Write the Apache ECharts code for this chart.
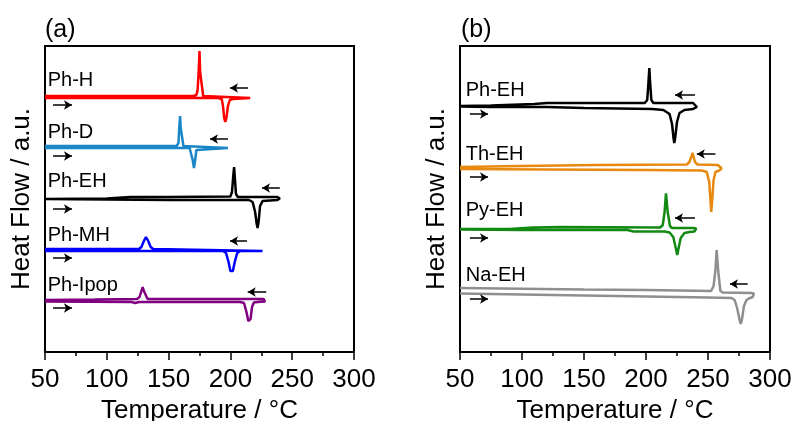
<!DOCTYPE html>
<html>
<head>
<meta charset="utf-8">
<script src="https://cdn.jsdelivr.net/npm/echarts/dist/echarts.min.js"></script>
<style>
  html, body { margin: 0; padding: 0; background: #fff; }
  #chart { width: 792px; height: 421px; }
</style>
</head>
<body>
<div id="chart"></div>
<script>
// DSC traces: heating run (left to right, melting endotherm pointing down)
// followed by the cooling run (right to left, crystallisation exotherm pointing up).
// Heat flow in arbitrary units, curves stacked with vertical offsets.

const tempTicks = [50, 100, 150, 200, 250, 300];

// ---- panel (a) ----
const phH_heat = [[50,254],[190,254],[193,253],[194,246],[195,234],[195.8,230],[196.8,234],[198,246],[199.5,252],[202,253],[216,254],[217.5,255]];
const phH_cool = [[217.5,255.5],[216,256],[178,256],[176.5,258],[175.5,280],[175,301],[174.5,285],[173.5,262],[172.5,257],[170,256],[50,256]];

const phD_heat = [[50,204],[167,204],[168.5,202],[169.5,192],[170.5,184],[171.5,192],[172.5,202],[174,204],[198,204],[199,205]];
const phD_cool = [[199,206],[162,206],[160.5,208],[159.8,224],[159.3,236],[158.6,224],[158,209],[156.5,206],[95.5,206],[94.5,208],[93.5,206],[50,206]];

const phEHa_heat = [[50,153],[150,152],[215,152],[218,150],[220,140],[221.3,128],[222,124],[222.8,130],[224,146],[226,151],[238,152],[240,153.5]];
const phEHa_cool = [[240,154.5],[238,155],[206,155],[204.5,158],[203.5,176],[203,185],[202.3,176],[201.3,160],[200,155.5],[150,155],[119,155],[100,153.5],[50,153]];

const phMH_heat = [[50,101],[194,101],[196.5,99],[198.5,90],[200,81],[201,79],[202,81],[203.5,90],[205.5,99],[208,101],[226,101],[227,101.5]];
const phMH_cool = [[227,102.5],[225,103],[137.5,103],[135.5,105],[133.5,111],[131.7,115],[130,111],[128,105],[126,103],[50,103]];

const phIpop_heat = [[50,50.5],[120,50],[123,49],[126,50],[208,50],[211,49],[213,40],[214.5,31],[215.3,29],[216.3,33],[217.5,45],[219,49.5],[222,50],[228,50.5],[229.5,51.5]];
const phIpop_cool = [[229.5,52.5],[227,53],[133,53],[131.5,55],[130,61],[129,65],[128,61],[126.5,55],[124.5,53],[90,52.5],[50,52]];

// ---- panel (b) ----
const phEHb_heat = [[50,245.5],[75,245],[120,245],[150,244],[205,243],[214,242],[219,238],[221,228],[222.2,214],[222.8,209],[223.5,214],[225,230],[227,239],[231,242],[238,243],[241,245]];
const phEHb_cool = [[241,247],[238,249],[206,249],[204.3,252],[203.3,270],[202.7,284],[202,270],[201,252],[199,249],[120,249],[110,248],[75,246.5],[50,246]];

const thEH_heat = [[50,183],[120,182.5],[200,182],[245,181.5],[249,180],[251,170],[252.2,148],[252.6,140],[253.3,150],[254.5,172],[256,180],[259,181.5],[261,183.5]];
const thEH_cool = [[261,185],[258,187],[241.5,187.5],[239.5,190],[238.2,196],[237.6,199],[236.8,196],[235,190],[233,187.5],[160,187],[100,186],[50,185]];

const pyEH_heat = [[50,122.5],[100,122],[185,122],[190,120.5],[215,120.5],[219,119.5],[222,115],[224,104],[225.2,97],[226.3,104],[228,114],[231,119],[235,120],[239,120.5],[240.5,122]];
const pyEH_cool = [[240.5,123.5],[238,124],[221,124],[219.3,126],[217.5,140],[216.1,158.7],[215,140],[213.5,127],[211.5,124.5],[130,125],[109,124.5],[90,123],[50,123]];

const naEH_heat = [[50,58.5],[100,57.5],[150,56.5],[200,55.5],[250,54.5],[269,54],[271.5,52],[273.5,44],[275.5,32],[276.4,28],[277.3,32],[279,46],[281,52],[283,53.5],[286,55],[287,57]];
const naEH_cool = [[287,58.5],[285,59],[262,59.5],[260,61],[258.3,80],[257,102],[256,82],[254.5,66],[252.5,61],[200,62],[150,62.5],[100,63.3],[50,64]];

// sample names, colours and which panel they sit in
const samplesA = ['Ph-H', 'Ph-D', 'Ph-EH', 'Ph-MH', 'Ph-Ipop'];
const samplesB = ['Ph-EH', 'Th-EH', 'Py-EH', 'Na-EH'];
const coloursA = ['#ff0000', '#1a86c8', '#000000', '#0000ff', '#800080'];
const coloursB = ['#000000', '#e8890f', '#128a12', '#8f8f8f'];
const tracesA = [[phH_heat, phH_cool], [phD_heat, phD_cool], [phEHa_heat, phEHa_cool], [phMH_heat, phMH_cool], [phIpop_heat, phIpop_cool]];
const tracesB = [[phEHb_heat, phEHb_cool], [thEH_heat, thEH_cool], [pyEH_heat, pyEH_cool], [naEH_heat, naEH_cool]];

// name tags [temperature, heat flow]
const tagA = [[52.2, 272], [52.2, 220], [52.2, 171], [52.2, 117], [52.2, 67]];
const tagB = [[54.6, 262], [54.6, 198], [54.6, 142], [54.6, 77]];

// scan-direction arrows [from T, to T, heat flow]
const heatArrowsA = [[56.5, 71.8, 247], [56.5, 71.8, 196], [56.5, 71.8, 143], [56.5, 71.8, 94], [56.5, 71.8, 44]];
const coolArrowsA = [[214.2, 199.7, 264], [198, 183.5, 213], [240, 225.6, 164], [213.4, 199.7, 111], [229, 214, 60]];
const heatArrowsB = [[58, 72.6, 238], [58, 72.6, 175], [58, 72.6, 114], [58, 72.6, 53]];
const coolArrowsB = [[239.5, 223.4, 257], [256, 241, 198], [239.5, 223.4, 134], [282, 267.7, 68]];

const FONT = '"Liberation Sans", Arial, sans-serif';
const INK = '#000';

function xAxisFor(gridIndex) {
  return {
    type: 'value', gridIndex: gridIndex, min: 50, max: 300, interval: 50,
    name: 'Temperature / °C', nameLocation: 'middle', nameGap: 44,
    nameTextStyle: { fontFamily: FONT, fontSize: 26, color: INK },
    axisLine: { show: true, onZero: false, lineStyle: { color: INK, width: 2 } },
    axisTick: { show: true, inside: false, length: 8, lineStyle: { color: INK, width: 1.5 } },
    minorTick: { show: true, splitNumber: 2, length: 4, lineStyle: { color: INK, width: 1.5 } },
    axisLabel: { fontFamily: FONT, fontSize: 26, color: INK, margin: 15,
      customValues: tempTicks },
    splitLine: { show: false }
  };
}
function yAxisFor(gridIndex) {
  return {
    type: 'value', gridIndex: gridIndex, min: 0, max: 306,
    name: 'Heat Flow / a.u.', nameLocation: 'middle', nameGap: 10,
    nameTextStyle: { fontFamily: FONT, fontSize: 26, color: INK },
    axisLine: { show: true, onZero: false, lineStyle: { color: INK, width: 2 } },
    axisTick: { show: false }, axisLabel: { show: false }, splitLine: { show: false }
  };
}

const series = [];
function addPanel(names, colours, traces, tags, heatArrows, coolArrows, gi) {
  names.forEach(function (name, i) {
    series.push({
      type: 'line', name: name, xAxisIndex: gi, yAxisIndex: gi,
      data: traces[i][0].concat(traces[i][1]),
      showSymbol: false, symbol: 'none', smooth: false,
      lineStyle: { color: colours[i], width: 2.5 },
      itemStyle: { color: colours[i] },
      silent: true, z: 3
    });
  });
  const arrowData = heatArrows.concat(coolArrows).map(function (a) {
    return [{ coord: [a[0], a[2]] }, { coord: [a[1], a[2]] }];
  });
  series.push({
    type: 'scatter', xAxisIndex: gi, yAxisIndex: gi,
    data: tags.map(function (t, i) { return { value: t, name: names[i] }; }),
    symbolSize: 0, silent: true, z: 5,
    itemStyle: { opacity: 1, color: INK },
    label: { show: true, position: 'right', distance: 0, formatter: '{b}',
      fontFamily: FONT, fontSize: 20, color: INK },
    markLine: {
      silent: true, symbol: ['none', 'arrow'], symbolSize: [7, 8],
      lineStyle: { color: INK, width: 1.5, type: 'solid', opacity: 1 },
      itemStyle: { color: INK },
      label: { show: false }, emphasis: { disabled: true },
      data: arrowData
    }
  });
}
addPanel(samplesA, coloursA, tracesA, tagA, heatArrowsA, coolArrowsA, 0);
addPanel(samplesB, coloursB, tracesB, tagB, heatArrowsB, coolArrowsB, 1);

const chart = echarts.init(document.getElementById('chart'), null, { renderer: 'canvas' });
chart.setOption({
  animation: false,
  backgroundColor: '#fff',
  title: [
    { text: '(a)', left: 40, top: 13, textStyle: { fontFamily: FONT, fontSize: 25, fontWeight: 'normal', color: INK } },
    { text: '(b)', left: 456, top: 13, textStyle: { fontFamily: FONT, fontSize: 25, fontWeight: 'normal', color: INK } }
  ],
  grid: [
    { left: 45, top: 46, width: 309, height: 306, show: true, borderColor: INK, borderWidth: 2,
      containLabel: false, outerBoundsMode: 'none' },
    { left: 460, top: 46, width: 310, height: 306, show: true, borderColor: INK, borderWidth: 2,
      containLabel: false, outerBoundsMode: 'none' }
  ],
  xAxis: [xAxisFor(0), xAxisFor(1)],
  yAxis: [yAxisFor(0), yAxisFor(1)],
  series: series
});
</script>
</body>
</html>
